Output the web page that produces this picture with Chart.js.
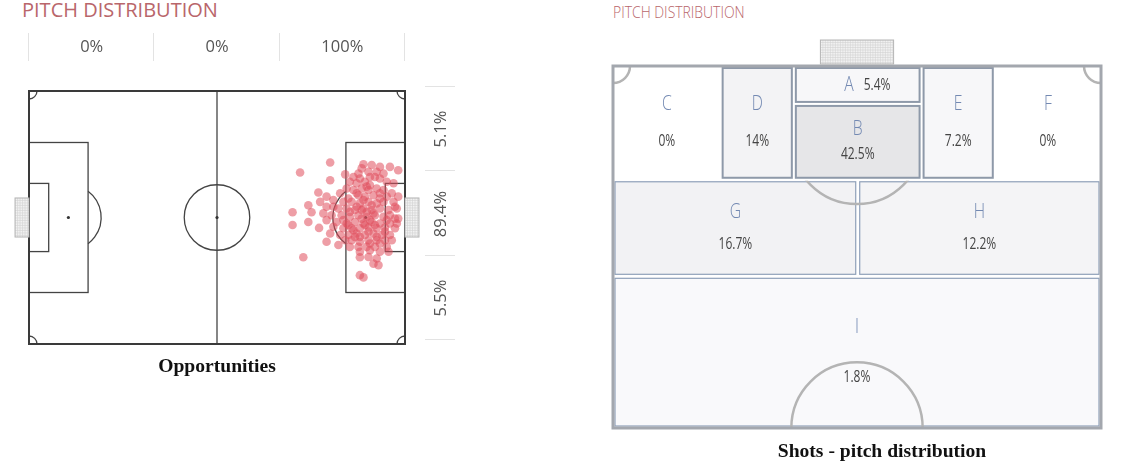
<!DOCTYPE html>
<html>
<head>
<meta charset="utf-8">
<script src="https://cdn.jsdelivr.net/npm/chart.js@4.4.0/dist/chart.umd.min.js"></script>
<style>
  body { margin: 0; background: #fff; width: 1122px; height: 472px; position: relative; overflow: hidden; font-family: 'Open Sans', sans-serif; }
  .abs { position: absolute; }
  canvas { position: absolute; top: 0; }
  #pitchLeft { left: 0; }
  #pitchRight { left: 560px; }
  .title { color: #b9666b; font-weight: 400; white-space: nowrap; }
  .pct { color: #555; font-size: 16.5px; text-align: center; line-height: 20px; }
  .sep { background: #e3e3e3; }
  .caption { font-family: 'Liberation Serif', 'Times New Roman', serif; font-weight: bold; font-size: 19.6px; color: #111; white-space: nowrap; transform: translateX(-50%); }
</style>
</head>
<body>
<div class="abs title" style="left:22px; top:-4px; font-size:20px;">PITCH DISTRIBUTION</div>
<div class="abs title" style="left:613px; top:0px; font-size:17px; font-weight:300; transform:scaleX(0.82); transform-origin:left top;">PITCH DISTRIBUTION</div>
<canvas id="pitchLeft" width="560" height="472"></canvas>
<canvas id="pitchRight" width="562" height="472"></canvas>
<div class="abs caption" id="capLeft" style="top:355px;">Opportunities</div>
<div class="abs caption" id="capRight" style="top:440px;">Shots - pitch distribution</div>
<script>
'use strict';

// share of opportunities per third (own, middle, final) and per lane (top, centre, bottom)
let thirdShare = [0, 0, 100];
let laneShare = [5.1, 89.4, 5.5];

// opportunity locations, metres (x along 105 m, y across 68 m from the top touchline)
let shotX = [84.1, 93.4, 95.7, 98.0, 100.8, 103.1, 92.9, 94.8, 97.1, 99.0,
  75.7, 88.3, 90.6, 92.4, 96.6, 98.0, 84.1, 89.6, 91.5, 93.8,
  95.2, 99.9, 101.8, 88.7, 90.6, 92.9, 94.8, 97.1, 99.0, 80.8,
  83.1, 86.9, 92.0, 93.8, 96.2, 98.0, 101.3, 103.1, 81.3, 85.0,
  87.8, 90.1, 92.4, 94.8, 97.1, 99.0, 101.8, 78.0, 83.1, 86.4,
  88.7, 91.0, 93.4, 95.7, 98.0, 100.4, 102.7, 103.1, 73.6, 78.9,
  82.2, 84.5, 87.3, 89.6, 92.0, 94.3, 96.6, 99.0, 100.8, 102.2,
  78.0, 83.1, 85.9, 88.7, 91.0, 93.4, 95.7, 98.0, 100.8, 73.6,
  81.0, 85.0, 87.8, 90.1, 92.4, 94.8, 97.1, 99.4, 102.2, 84.1,
  86.9, 89.2, 91.5, 93.8, 96.2, 98.5, 100.8, 83.1, 86.4, 88.3,
  90.1, 92.4, 94.8, 97.1, 99.4, 89.6, 92.0, 94.3, 96.6, 99.9,
  92.4, 95.2, 98.0, 100.4, 92.4, 94.8, 97.1, 96.2, 97.6, 76.6,
  92.4, 93.4, 91.5, 94.3, 92.9, 95.2, 93.8, 96.6, 90.6, 94.8,
  92.4, 97.1, 93.4, 95.7, 91.5, 98.0, 99.9, 89.6, 91.0, 95.2,
  98.0, 99.4, 101.3, 92.9, 96.2, 85.0, 87.8, 89.2, 99.9, 94.3,
  92.0, 95.2, 102.2, 89.2, 102.7];
let shotY = [19.2, 19.7, 19.9, 20.4, 20.4, 21.3, 20.8, 21.7, 21.7, 22.2,
  21.9, 22.4, 23.1, 23.5, 23.1, 23.5, 24.0, 24.4, 24.8, 24.4,
  25.3, 24.4, 24.8, 26.2, 26.6, 26.2, 26.6, 26.2, 26.6, 27.3,
  28.4, 27.5, 28.0, 28.4, 28.0, 27.5, 27.5, 28.4, 29.8, 29.3,
  29.8, 29.8, 30.2, 29.8, 30.2, 29.8, 29.8, 30.7, 31.1, 31.6,
  31.6, 32.0, 31.6, 32.0, 31.6, 32.0, 31.6, 34.3, 32.6, 32.6,
  32.9, 33.4, 33.4, 33.8, 33.4, 33.8, 33.4, 33.8, 33.4, 34.3,
  35.2, 34.7, 35.2, 35.6, 35.2, 35.6, 35.2, 35.6, 35.6, 36.0,
  36.8, 36.5, 36.9, 36.9, 36.9, 36.7, 36.9, 36.7, 36.9, 38.3,
  38.7, 38.7, 38.3, 38.7, 38.3, 38.7, 38.7, 40.5, 41.4, 40.1,
  40.1, 40.5, 40.1, 40.1, 40.1, 41.9, 41.9, 41.9, 41.9, 41.9,
  43.2, 42.8, 43.2, 43.2, 44.7, 44.6, 45.0, 46.4, 46.8, 44.7,
  49.5, 50.1, 31.1, 32.5, 34.3, 34.7, 36.0, 36.0, 37.4, 37.8,
  39.2, 39.2, 29.3, 30.7, 27.5, 28.9, 34.7, 32.5, 39.2, 41.0,
  41.0, 37.8, 40.1, 32.0, 32.9, 31.1, 34.7, 28.9, 28.4, 25.7,
  22.2, 23.1, 31.1, 36.0, 35.6];

// shot zones, metres (x across 68 m, y from the goal line)
let zoneNames = ['A', 'B', 'C', 'D', 'E', 'F', 'G', 'H', 'I'];
let zoneShare = [5.4, 42.5, 0, 14, 7.2, 0, 16.7, 12.2, 1.8];
let zoneX0 = [25.2, 25.2, 0, 15.0, 43.0, 53.2, 0, 34.1, 0];
let zoneX1 = [43.0, 43.0, 15.0, 25.2, 53.2, 68, 34.1, 68, 68];
let zoneY0 = [0, 5.5, 0, 0, 0, 0, 16.5, 16.5, 30.5];
let zoneY1 = [5.5, 16.5, 16.5, 16.5, 16.5, 16.5, 30.5, 30.5, 52.5];


function drawNet(ctx, x, y, w, h) {
  ctx.save();
  ctx.fillStyle = '#f2f2f2';
  ctx.fillRect(x, y, w, h);
  ctx.beginPath();
  ctx.rect(x, y, w, h);
  ctx.clip();
  ctx.strokeStyle = '#d2d2d2';
  ctx.lineWidth = 0.6;
  ctx.beginPath();
  for (let gx = x; gx <= x + w; gx += 2.5) { ctx.moveTo(gx, y); ctx.lineTo(gx, y + h); }
  for (let gy = y; gy <= y + h; gy += 2.5) { ctx.moveTo(x, gy); ctx.lineTo(x + w, gy); }
  ctx.stroke();
  ctx.restore();
  ctx.strokeStyle = '#b5b5b5';
  ctx.lineWidth = 1;
  ctx.strokeRect(x, y, w, h);
}

function condText(ctx, text, x, y, align, font, color) {
  ctx.save();
  ctx.font = font;
  ctx.fillStyle = color;
  ctx.textBaseline = 'middle';
  ctx.textAlign = align;
  ctx.translate(x, y);
  ctx.scale(0.75, 1);
  ctx.fillText(text, 0, 0);
  ctx.restore();
}

const pitchLines = {
  id: 'pitchLines',
  beforeDatasetsDraw(chart) {
    const ctx = chart.ctx;
    const X = v => chart.scales.x.getPixelForValue(v);
    const Y = v => chart.scales.y.getPixelForValue(v);
    const r = X(9.15) - X(0);
    ctx.save();
    ctx.strokeStyle = '#444';
    ctx.lineWidth = 1.3;

    // boxes
    ctx.strokeRect(X(0), Y(13.84), X(16.5) - X(0), Y(54.16) - Y(13.84));
    ctx.strokeRect(X(88.5), Y(13.84), X(105) - X(88.5), Y(54.16) - Y(13.84));
    ctx.strokeRect(X(0), Y(24.84), X(5.5) - X(0), Y(43.16) - Y(24.84));
    ctx.strokeRect(X(99.5), Y(24.84), X(105) - X(99.5), Y(43.16) - Y(24.84));

    // halfway line and centre circle
    ctx.beginPath();
    ctx.moveTo(X(52.5), Y(0));
    ctx.lineTo(X(52.5), Y(68));
    ctx.stroke();
    ctx.beginPath();
    ctx.arc(X(52.5), Y(34), r, 0, Math.PI * 2);
    ctx.stroke();

    // penalty arcs
    const a = Math.acos(5.5 / 9.15);
    ctx.beginPath();
    ctx.arc(X(11), Y(34), r, -a, a);
    ctx.stroke();
    ctx.beginPath();
    ctx.arc(X(94), Y(34), r, Math.PI - a, Math.PI + a);
    ctx.stroke();

    // spots
    ctx.fillStyle = '#333';
    [11, 52.5, 94].forEach(sx => {
      ctx.beginPath();
      ctx.arc(X(sx), Y(34), 1.6, 0, Math.PI * 2);
      ctx.fill();
    });

    // corners
    const cr = 8;
    ctx.beginPath(); ctx.arc(X(0), Y(0), cr, 0, Math.PI / 2); ctx.stroke();
    ctx.beginPath(); ctx.arc(X(105), Y(0), cr, Math.PI / 2, Math.PI); ctx.stroke();
    ctx.beginPath(); ctx.arc(X(0), Y(68), cr, -Math.PI / 2, 0); ctx.stroke();
    ctx.beginPath(); ctx.arc(X(105), Y(68), cr, Math.PI, Math.PI * 1.5); ctx.stroke();

    // outline
    ctx.strokeStyle = '#3a3a3a';
    ctx.lineWidth = 2;
    ctx.strokeRect(X(0), Y(0), X(105) - X(0), Y(68) - Y(0));

    // goals
    drawNet(ctx, X(-3.9), Y(28.75), X(0) - X(-3.9), Y(39.25) - Y(28.75));
    drawNet(ctx, X(105), Y(28.75), X(108.9) - X(105), Y(39.25) - Y(28.75));
    ctx.restore();
  }
};

const zoneLayer = {
  id: 'zoneLayer',
  beforeDatasetsDraw(chart) {
    const ctx = chart.ctx;
    const X = v => chart.scales.x.getPixelForValue(v);
    const Y = v => chart.scales.y.getPixelForValue(v);
    const inset = 2;
    ctx.save();

    for (let i = 0; i < zoneNames.length; i++) {
      const left = X(zoneX0[i]) + inset;
      const right = X(zoneX1[i]) - inset;
      const top = Y(zoneY0[i]) + inset;
      const bottom = Y(zoneY1[i]) - inset;
      const shade = zoneShare[i] === 0 ? 255 : Math.round(250 - zoneShare[i] * 0.47);
      ctx.fillStyle = 'rgb(' + shade + ',' + shade + ',' + (shade + (shade < 255 ? 2 : 0)) + ')';
      ctx.fillRect(left, top, right - left, bottom - top);
      if (zoneShare[i] > 0) {
        if (zoneY1[i] <= 16.5) {
          ctx.strokeStyle = '#8e99a9';
          ctx.lineWidth = 2;
        } else {
          ctx.strokeStyle = '#8fa0b9';
          ctx.lineWidth = 1.2;
        }
        ctx.strokeRect(left, top, right - left, bottom - top);
      }
    }

    const r = X(9.15) - X(0);
    ctx.strokeStyle = '#b4b4b4';
    ctx.lineWidth = 2.5;

    // penalty arc, only outside the box
    ctx.save();
    ctx.beginPath();
    ctx.rect(X(0), Y(16.5) + 1, X(68) - X(0), Y(52.5) - Y(16.5));
    ctx.clip();
    ctx.beginPath();
    ctx.arc(X(34), Y(10.5), r, 0, Math.PI);
    ctx.stroke();
    ctx.restore();

    // centre circle at halfway line
    ctx.beginPath();
    ctx.arc(X(34), Y(52.5), r, Math.PI, Math.PI * 2);
    ctx.stroke();

    // corners
    ctx.beginPath(); ctx.arc(X(0), Y(0), 17, 0, Math.PI / 2); ctx.stroke();
    ctx.beginPath(); ctx.arc(X(68), Y(0), 17, Math.PI / 2, Math.PI); ctx.stroke();

    // outline
    ctx.strokeStyle = '#a3a7ae';
    ctx.lineWidth = 3;
    ctx.strokeRect(X(0), Y(0), X(68) - X(0), Y(52.5) - Y(0));

    // goal
    drawNet(ctx, X(28.9), Y(0) - 26, X(39.1) - X(28.9), 24);

    // labels
    const letterFont = '300 21px "Open Sans"';
    const pctFont = '400 16px "Open Sans"';
    for (let i = 0; i < zoneNames.length; i++) {
      const cx = (X(zoneX0[i]) + X(zoneX1[i])) / 2;
      const cy = (Y(zoneY0[i]) + Y(zoneY1[i])) / 2;
      const h = Y(zoneY1[i]) - Y(zoneY0[i]);
      const pct = zoneShare[i] + '%';
      if (h < 40) {
        condText(ctx, zoneNames[i], cx - 4, cy, 'right', letterFont, '#7389b2');
        condText(ctx, pct, cx + 6, cy, 'left', pctFont, '#444');
      } else {
        condText(ctx, zoneNames[i], cx, cy - h / 6, 'center', letterFont, '#7389b2');
        condText(ctx, pct, cx, cy + h / 6, 'center', pctFont, '#444');
      }
    }
    ctx.restore();
  }
};

let points = [];
for (let i = 0; i < shotX.length; i++) {
  points.push({ x: shotX[i], y: shotY[i] });
}

let leftChart = new Chart(document.getElementById('pitchLeft'), {
  type: 'scatter',
  data: {
    datasets: [{
      data: points,
      backgroundColor: 'rgba(224, 78, 92, 0.55)',
      borderWidth: 0,
      pointRadius: 4.3
    }]
  },
  options: {
    responsive: false,
    animation: false,
    events: [],
    layout: { padding: { left: 29, top: 91, right: 155, bottom: 128 } },
    scales: {
      x: { type: 'linear', min: 0, max: 105, display: false },
      y: { type: 'linear', min: 0, max: 68, reverse: true, display: false }
    },
    plugins: { legend: { display: false }, tooltip: { enabled: false } }
  },
  plugins: [pitchLines]
});

let rightChart = new Chart(document.getElementById('pitchRight'), {
  type: 'scatter',
  data: { datasets: [{ data: [] }] },
  options: {
    responsive: false,
    animation: false,
    events: [],
    layout: { padding: { left: 53, top: 66, right: 21, bottom: 44 } },
    scales: {
      x: { type: 'linear', min: 0, max: 68, display: false },
      y: { type: 'linear', min: 0, max: 52.5, reverse: true, display: false }
    },
    plugins: { legend: { display: false }, tooltip: { enabled: false } }
  },
  plugins: [zoneLayer]
});

// labels around the left pitch
let lx = v => leftChart.scales.x.getPixelForValue(v);
let ly = v => leftChart.scales.y.getPixelForValue(v);
for (let i = 0; i < thirdShare.length; i++) {
  let d = document.createElement('div');
  d.className = 'abs pct';
  d.style.left = lx(i * 35) + 'px';
  d.style.width = (lx(35) - lx(0)) + 'px';
  d.style.top = '36px';
  d.textContent = thirdShare[i] + '%';
  document.body.appendChild(d);
}
for (let i = 0; i <= thirdShare.length; i++) {
  let s = document.createElement('div');
  s.className = 'abs sep';
  s.style.left = (lx(i * 35) - 1) + 'px';
  s.style.top = '33px';
  s.style.width = '1px';
  s.style.height = '28px';
  document.body.appendChild(s);
}
for (let i = 0; i < laneShare.length; i++) {
  let mid = (ly(i * 68 / 3) + ly((i + 1) * 68 / 3)) / 2 - 4;
  let d = document.createElement('div');
  d.className = 'abs pct';
  d.style.left = (lx(105) - 15) + 'px';
  d.style.width = '100px';
  d.style.top = (mid - 10) + 'px';
  d.style.transform = 'rotate(-90deg)';
  d.textContent = laneShare[i] + '%';
  document.body.appendChild(d);
}
for (let i = 0; i <= laneShare.length; i++) {
  let s = document.createElement('div');
  s.className = 'abs sep';
  s.style.left = (lx(105) + 20) + 'px';
  s.style.top = (ly(i * 68 / 3) - 5) + 'px';
  s.style.width = '30px';
  s.style.height = '1px';
  document.body.appendChild(s);
}
document.getElementById('capLeft').style.left = lx(52.5) + 'px';
document.getElementById('capRight').style.left = (560 + rightChart.scales.x.getPixelForValue(34) + 25) + 'px';
</script>
</body>
</html>
